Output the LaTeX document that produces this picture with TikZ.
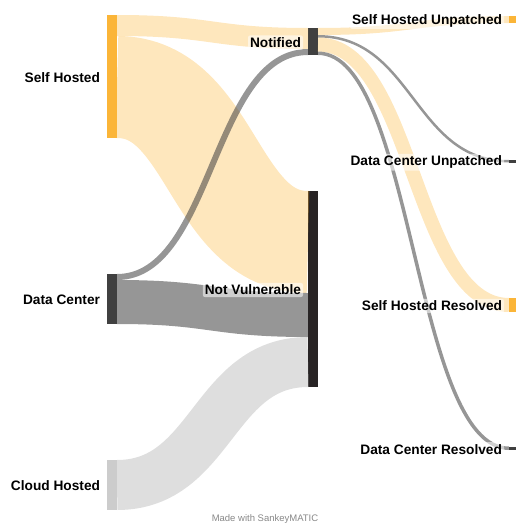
\documentclass[tikz,border=0pt]{standalone}
\usepackage{fontspec}
\setmainfont{Liberation Sans}
\usepackage{tikz}
\usetikzlibrary{positioning, calc}
\definecolor{shorange}{RGB}{251,181,56}
\definecolor{dcgray}{RGB}{64,64,64}
\definecolor{cloudgray}{RGB}{204,204,204}
\definecolor{nvblack}{RGB}{40,36,37}
\definecolor{creditgray}{RGB}{136,136,136}

% band from source node to target node, offsets measured down from the tops
\newcommand{\flow}[6]{%
  \coordinate (fs) at ($(#1.north east)+(0,#2)$);
  \coordinate (ft) at ($(#3.north west)+(0,#4)$);
  \coordinate (fm) at ($(fs)!0.5!(ft)$);
  \draw[#6, line width=#5pt] (fs) .. controls (fm |- fs) and (fm |- ft) .. (ft);
}

\begin{document}
\begin{tikzpicture}[
    x=1pt, y=-1pt,
    bar/.style={rectangle, fill=#1, inner sep=0pt, outer sep=0pt, minimum width=10pt},
    endbar/.style={bar=#1, minimum width=7pt},
    lbl/.style={fill=white, fill opacity=0.55, text opacity=1, rounded corners=2pt,
                inner sep=2pt, outer sep=0pt, yshift=-1pt,
                font=\bfseries\fontsize{13.7}{15}\selectfont},
    shlink/.style={draw=shorange, draw opacity=0.33},
    dclink/.style={draw=dcgray, draw opacity=0.55},
    chlink/.style={draw=cloudgray, draw opacity=0.65},
]
    \useasboundingbox (0,0) rectangle (516,525);

    % sources
    \node[bar=shorange,  minimum height=123pt] (sh) at (112,76.5) {};
    \node[bar=dcgray,    minimum height=50pt]  (dc) at (112,299)  {};
    \node[bar=cloudgray, minimum height=50pt]  (ch) at (112,485)  {};

    % middle column
    \node[bar=dcgray,  minimum height=27pt]  (nt) at (313,41.5) {};
    \node[bar=nvblack, minimum height=196pt] (nv) at (313,289)  {};

    % outcomes
    \node[endbar=shorange, minimum height=7pt]   (shu) at (512.5,19.5)   {};
    \node[endbar=dcgray,   minimum height=2.5pt] (dcu) at (512.5,161.25) {};
    \node[endbar=shorange, minimum height=14pt]  (shr) at (512.5,305)    {};
    \node[endbar=dcgray,   minimum height=3.5pt] (dcr) at (512.5,448.25) {};

    \flow{sh}{10.5}{nt}{10.5}{21}{shlink}
    \flow{sh}{72}{nv}{51}{102}{shlink}
    \flow{dc}{3}{nt}{24}{6}{dclink}
    \flow{dc}{28}{nv}{124}{44}{dclink}
    \flow{ch}{25}{nv}{171}{50}{chlink}

    \flow{nt}{3.5}{shu}{3.5}{7}{shlink}
    \flow{nt}{8.25}{dcu}{1.25}{2.5}{dclink}
    \flow{nt}{16.5}{shr}{7}{14}{shlink}
    \flow{nt}{25.25}{dcr}{1.75}{3.5}{dclink}

    % Labels
    \node[lbl, left=5pt of sh]  (shlbl)  {Self Hosted};
    \node[lbl, left=5pt of dc]  (dclbl)  {Data Center};
    \node[lbl, left=5pt of ch]  (chlbl)  {Cloud Hosted};
    \node[lbl, left=5pt of nt]  (ntlbl)  {Notified};
    \node[lbl, left=5pt of nv]  (nvlbl)  {Not Vulnerable};
    \node[lbl, left=5pt of shu] (shulbl) {Self Hosted Unpatched};
    \node[lbl, left=5pt of dcu] (dculbl) {Data Center Unpatched};
    \node[lbl, left=5pt of shr] (shrlbl) {Self Hosted Resolved};
    \node[lbl, left=5pt of dcr] (dcrlbl) {Data Center Resolved};

    \node[font=\fontsize{9.5}{11}\selectfont, text=creditgray] (credit) at (265,519) {Made with SankeyMATIC};
\end{tikzpicture}
\end{document}
